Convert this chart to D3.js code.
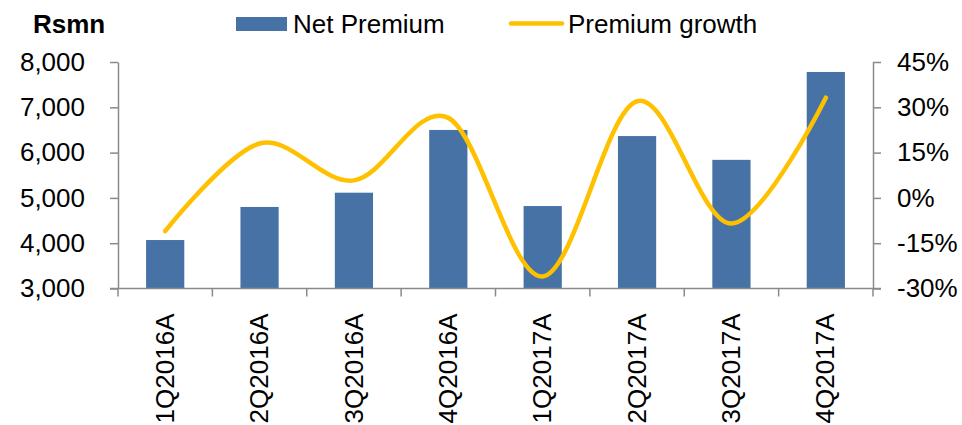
<!DOCTYPE html>
<html>
<head>
<meta charset="utf-8">
<script src="https://cdn.jsdelivr.net/npm/d3@7/dist/d3.min.js"></script>
<style>
  html, body { margin: 0; padding: 0; background: #fff; }
  svg { display: block; font-family: "Liberation Sans", Arial, sans-serif; }
</style>
</head>
<body>
<svg id="chart" width="962" height="425"></svg>
<script>
// Quarterly net premium (Rs mn) and its growth (%)
const quarters = ["1Q2016A", "2Q2016A", "3Q2016A", "4Q2016A", "1Q2017A", "2Q2017A", "3Q2017A", "4Q2017A"];
const netPremium = [4070, 4800, 5115, 6500, 4820, 6365, 5840, 7780];
const premiumGrowth = [-11, 18, 5.8, 26.5, -26, 32, -8.5, 33.2];
const leftTicks = [3000, 4000, 5000, 6000, 7000, 8000];
const rightTicks = [-30, -15, 0, 15, 30, 45];
const seriesNames = ["Net Premium", "Premium growth"];
const unitLabel = "Rsmn";

const barColor = "#4672A6";
const lineColor = "#FFC000";
const axisColor = "#8A8A8A";
const fontSize = 26;

const svg = d3.select("#chart");
const plot = { left: 118, right: 873, top: 62, bottom: 288.5 };

const x = d3.scaleBand().domain(quarters).range([plot.left, plot.right]).paddingInner(0).paddingOuter(0);
const yL = d3.scaleLinear().domain([3000, 8000]).range([plot.bottom, plot.top]);
const yR = d3.scaleLinear().domain([-30, 45]).range([plot.bottom, plot.top]);

// Bars
const barW = x.bandwidth() * 0.405;
svg.append("g").selectAll("rect").data(netPremium).join("rect")
  .attr("x", (d, i) => x(quarters[i]) + x.bandwidth() / 2 - barW / 2)
  .attr("y", d => yL(d))
  .attr("width", barW)
  .attr("height", d => yL(3000) - yL(d))
  .attr("fill", barColor);

// Smoothed growth line
const line = d3.line()
  .x((d, i) => x(quarters[i]) + x.bandwidth() / 2)
  .y(d => yR(d))
  .curve(d3.curveCardinal.tension(0));
svg.append("path").datum(premiumGrowth)
  .attr("d", line)
  .attr("fill", "none")
  .attr("stroke", lineColor)
  .attr("stroke-width", 4.5)
  .attr("stroke-linecap", "round")
  .attr("stroke-linejoin", "round");

// Axes
function styleAxis(g) {
  g.selectAll("path, line").attr("stroke", axisColor).attr("stroke-width", 1.5);
  g.selectAll("text").attr("fill", "#000").style("font-size", fontSize + "px")
    .style("font-family", "'Liberation Sans', Arial, sans-serif");
}

const leftAxis = svg.append("g")
  .attr("transform", `translate(${plot.left},0)`)
  .call(d3.axisLeft(yL).tickValues(leftTicks).tickSize(8).tickSizeOuter(0).tickPadding(25)
    .tickFormat(d3.format(",")));
styleAxis(leftAxis);

const rightAxis = svg.append("g")
  .attr("transform", `translate(${plot.right},0)`)
  .call(d3.axisRight(yR).tickValues(rightTicks).tickSize(8).tickSizeOuter(0).tickPadding(16)
    .tickFormat(d => d + "%"));
styleAxis(rightAxis);

// Category axis: ticks on band boundaries
const bottom = svg.append("g").attr("transform", `translate(0,${plot.bottom})`);
bottom.append("line")
  .attr("x1", plot.left - 8).attr("x2", plot.right + 8)
  .attr("stroke", axisColor).attr("stroke-width", 1.5);
const edges = quarters.map(q => x(q)).concat([plot.right]);
bottom.selectAll("line.tick").data(edges).join("line")
  .attr("class", "tick")
  .attr("x1", d => d).attr("x2", d => d)
  .attr("y1", 0).attr("y2", 8)
  .attr("stroke", axisColor).attr("stroke-width", 1.5);
bottom.selectAll("text").data(quarters).join("text")
  .attr("transform", d => `translate(${x(d) + x.bandwidth() / 2},25) rotate(-90)`)
  .attr("text-anchor", "end")
  .attr("dy", "0.33em")
  .style("font-size", fontSize + "px")
  .text(d => d);

// Unit label and legend
svg.append("text").attr("x", 33).attr("y", 33)
  .style("font-size", fontSize + "px").style("font-weight", "bold")
  .text(unitLabel);

const legend = svg.append("g");
legend.append("rect").attr("x", 236).attr("y", 17).attr("width", 51).attr("height", 14).attr("fill", barColor);
legend.append("text").attr("x", 293).attr("y", 33).style("font-size", fontSize + "px").text(seriesNames[0]);
legend.append("line").attr("x1", 511).attr("x2", 562).attr("y1", 23.5).attr("y2", 23.5)
  .attr("stroke", lineColor).attr("stroke-width", 4.5).attr("stroke-linecap", "round");
legend.append("text").attr("x", 568).attr("y", 33).style("font-size", fontSize + "px").text(seriesNames[1]);
</script>
</body>
</html>
